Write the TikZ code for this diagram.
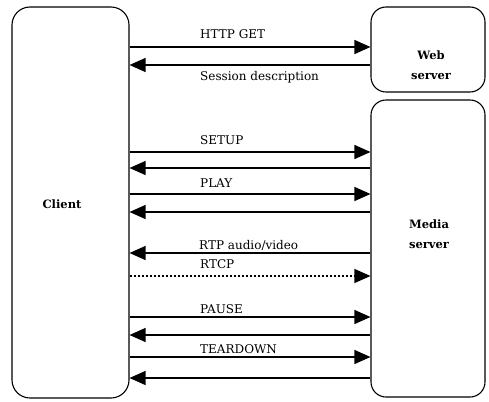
\documentclass[tikz,border=0pt]{standalone}
\usepackage{fontspec}
\setmainfont{DejaVu Serif}
\usetikzlibrary{arrows.meta}
\begin{document}
\begin{tikzpicture}[x=1pt,y=-1pt,
  box/.style={draw, line width=1.1pt, rounded corners=18pt, inner sep=0pt},
  msg/.style={line width=1.3pt, -{Triangle[length=16pt,width=14pt]}},
  dotmsg/.style={msg, dash pattern=on 2pt off 2pt},
  lbl/.style={anchor=base west, inner sep=0pt, font=\fontsize{12}{14}\selectfont},
  boxname/.style={align=center, inner sep=0pt, font=\fontsize{11.5}{20}\selectfont\bfseries}]
\useasboundingbox (0,0) rectangle (489,401);
% boxes
\node[box, minimum width=117pt, minimum height=391pt] (client) at (70.5,202.5) {};
\node[box, rounded corners=15pt, minimum width=114pt, minimum height=85pt] (web) at (428,49.5) {};
\node[box, rounded corners=15pt, minimum width=114pt, minimum height=297pt] (media) at (428,248.5) {};
% box labels
\node[boxname] (clientlbl) at (62,204) {Client};
\node[boxname] (weblbl) at (431,65) {Web\\server};
\node[boxname] (medialbl) at (429,234) {Media\\server};
% messages with web server
\draw[msg] (client.east |- 0,47) -- (web.west |- 0,47);
\draw[msg] (web.west |- 0,65) -- (client.east |- 0,65);
\node[lbl] (l1) at (200,39) {HTTP GET};
\node[lbl] (l2) at (200,81) {Session description};
% messages with media server
\draw[msg] (client.east |- 0,152) -- (media.west |- 0,152);
\draw[msg] (media.west |- 0,168) -- (client.east |- 0,168);
\node[lbl] (l3) at (200,144) {SETUP};
\draw[msg] (client.east |- 0,194) -- (media.west |- 0,194);
\draw[msg] (media.west |- 0,212) -- (client.east |- 0,212);
\node[lbl] (l4) at (200,187) {PLAY};
\draw[msg] (media.west |- 0,253) -- (client.east |- 0,253);
\node[lbl] (l5) at (199,249) {RTP audio/video};
\draw[dotmsg] (client.east |- 0,276) -- (media.west |- 0,276);
\node[lbl] (l6) at (200,268) {RTCP};
\draw[msg] (client.east |- 0,317) -- (media.west |- 0,317);
\draw[msg] (media.west |- 0,335) -- (client.east |- 0,335);
\node[lbl] (l7) at (200,313) {PAUSE};
\draw[msg] (client.east |- 0,357) -- (media.west |- 0,357);
\draw[msg] (media.west |- 0,378) -- (client.east |- 0,378);
\node[lbl] (l8) at (200,353) {TEARDOWN};
\end{tikzpicture}
\end{document}
